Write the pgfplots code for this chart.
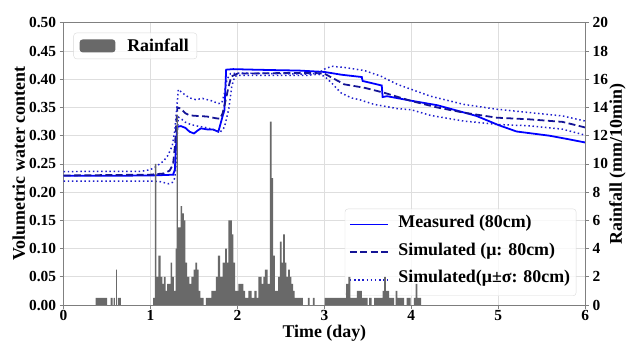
\documentclass[border=0pt]{standalone}
\usepackage{pgfplots}
\pgfplotsset{compat=1.18}
\usepackage{fontspec}
\setmainfont{Liberation Serif}
\newcommand{\tickfont}{\fontsize{15.5bp}{18bp}\selectfont\bfseries}
\newcommand{\lblfont}{\fontsize{18bp}{21bp}\selectfont\bfseries}
\definecolor{rain}{RGB}{105,105,105}
\definecolor{meas}{RGB}{0,0,255}
\definecolor{simu}{RGB}{20,20,150}
\definecolor{simd}{RGB}{30,30,205}
\begin{document}
\begin{tikzpicture}
\begin{axis}[
  at={(0,0)}, anchor=south west,
  scale only axis, width=525bp, height=284bp,
  xmin=0, xmax=6, ymin=0, ymax=0.5,
  xtick={0,1,2,3,4,5,6},
  ytick={0,0.05,0.1,0.15,0.2,0.25,0.3,0.35,0.4,0.45,0.5},
  xtick pos=bottom, ytick pos=left,
  tick align=outside, major tick length=4bp,
  axis line style={black!50, line width=0.8pt},
  tick style={black!50, line width=0.8pt},
  grid=major, major grid style={black!13, line width=0.8pt},
  /pgf/number format/assume math mode=true,
  ticklabel style={font=\tickfont},
  xticklabel style={yshift=2bp},
  yticklabel style={/pgf/number format/fixed, /pgf/number format/fixed zerofill, /pgf/number format/precision=2},
  xlabel={Time (day)}, ylabel={Volumetric water content},
  label style={font=\lblfont},
  xlabel style={at={(axis description cs:0.5,-0.1)}, anchor=center},
  ylabel style={at={(axis description cs:-0.0857,0.5)}, anchor=center},
  legend style={at={(0.983,0.032)}, anchor=south east, font=\lblfont,
    draw=black!15, rounded corners=3pt, fill=white, fill opacity=0.8, text opacity=1,
    row sep=4.5bp, column sep=8bp, inner xsep=4bp, inner ysep=4bp,
    nodes={text depth=7bp}},
  legend cell align=left,
  legend image code/.code={\draw[#1, opacity=1] (0bp,0bp) -- (38bp,0bp);},
]
\addplot[meas, line width=1.8pt] coordinates {
(0,0.229) (0.5,0.229) (1.0,0.2295) (1.2,0.2305) (1.26,0.231) (1.28,0.24) (1.29,0.27) (1.30,0.30) (1.31,0.316)
(1.35,0.317) (1.40,0.314) (1.45,0.307) (1.50,0.304) (1.54,0.309) (1.58,0.313) (1.62,0.312) (1.66,0.311)
(1.72,0.311) (1.78,0.307) (1.80,0.318) (1.83,0.335) (1.85,0.345) (1.86,0.38) (1.87,0.417) (1.95,0.418)
(2.2,0.417) (2.5,0.416) (2.7,0.4155) (3.0,0.413) (3.2,0.408) (3.43,0.404) (3.44,0.397) (3.66,0.389)
(3.67,0.3685) (3.72,0.370) (4.0,0.362) (4.3,0.354) (4.68,0.338) (4.75,0.335) (5.0,0.319) (5.21,0.3075)
(5.59,0.300) (5.8,0.294) (6.0,0.288)};
\addlegendentry{Measured (80cm)}
\addplot[simu, line width=1.8pt, dash pattern=on 7bp off 3.5bp] coordinates {
(0,0.2295) (1.0,0.231) (1.15,0.233) (1.22,0.238) (1.26,0.25) (1.28,0.28) (1.30,0.33) (1.31,0.35)
(1.35,0.348) (1.40,0.340) (1.45,0.336) (1.54,0.335) (1.65,0.334) (1.75,0.331) (1.80,0.330) (1.83,0.34)
(1.86,0.36) (1.90,0.388) (1.93,0.405) (2.0,0.41) (2.5,0.411) (2.9,0.411) (3.0,0.41) (3.23,0.391)
(3.46,0.385) (3.69,0.376) (4.0,0.3615) (4.30,0.350) (4.60,0.341) (4.98,0.332) (5.36,0.329) (5.74,0.3245)
(6.0,0.3146)};
\addlegendentry{Simulated (μ: 80cm)}
\addplot[simd, line width=1.5pt, dash pattern=on 1.5bp off 2.7bp] coordinates {
(0,0.2365) (0.9,0.237) (1.0,0.240) (1.06,0.245) (1.15,0.255) (1.20,0.265) (1.25,0.282) (1.28,0.31)
(1.30,0.345) (1.32,0.382) (1.35,0.378) (1.40,0.372) (1.45,0.367) (1.52,0.364) (1.60,0.366) (1.70,0.362)
(1.78,0.357) (1.82,0.358) (1.85,0.375) (1.88,0.40) (1.92,0.41) (2.0,0.411) (2.5,0.41) (2.8,0.409)
(2.93,0.411) (3.0,0.418) (3.08,0.423) (3.23,0.421) (3.46,0.4155) (3.65,0.4055) (3.84,0.391) (4.22,0.370)
(4.60,0.3556) (4.98,0.347) (5.36,0.341) (5.74,0.335) (6.0,0.326)};
\addlegendentry{Simulated(μ±σ: 80cm)}
\addplot[simd, line width=1.5pt, dash pattern=on 1.5bp off 2.7bp, forget plot] coordinates {
(0,0.2195) (1.0,0.2195) (1.10,0.219) (1.18,0.216) (1.21,0.2148) (1.25,0.217) (1.28,0.225) (1.30,0.26)
(1.31,0.31) (1.32,0.333) (1.36,0.329) (1.40,0.324) (1.46,0.320) (1.54,0.317) (1.62,0.315) (1.72,0.311)
(1.80,0.306) (1.85,0.315) (1.90,0.347) (1.935,0.388) (1.97,0.405) (2.0,0.407) (2.5,0.407) (2.8,0.407)
(2.93,0.409) (3.0,0.4055) (3.08,0.394) (3.19,0.376) (3.31,0.367) (3.40,0.364) (3.57,0.3556) (3.84,0.348)
(4.0,0.346) (4.22,0.336) (4.60,0.326) (4.80,0.323) (4.98,0.320) (5.36,0.3175) (5.74,0.3116) (6.0,0.301)};
\end{axis}
\begin{axis}[
  at={(0,0)}, anchor=south west,
  scale only axis, width=525bp, height=284bp,
  xmin=0, xmax=6, ymin=0, ymax=20,
  axis x line=none, axis y line*=right,
  ytick={0,2,4,6,8,10,12,14,16,18,20},
  tick align=outside, major tick length=4bp,
  axis line style={black!50, line width=0.8pt},
  tick style={black!50, line width=0.8pt},
  /pgf/number format/assume math mode=true,
  ticklabel style={font=\tickfont},
  ylabel={Rainfall (mm/10min)},
  label style={font=\lblfont},
  ylabel style={at={(axis description cs:1.062,0.5)}, anchor=center},
  legend style={at={(0.019,0.965)}, anchor=north west, font=\lblfont,
    draw=black!15, rounded corners=3pt, fill=white, fill opacity=0.8, text opacity=1,
    column sep=10bp, inner xsep=6bp, inner ysep=4bp},
  legend image code/.code={\fill[#1, opacity=1] (0bp,-6.5bp) rectangle (36bp,6.5bp);},
]
\addplot[const plot, fill=rain, draw=none] coordinates {
(0,0) (0.37,0.5) (0.50,0) (0.54,0.5) (0.565,0) (0.575,0.5) (0.59,0) (0.605,2.5) (0.613,0) (0.625,0.5) (0.66,0)
(1.029,0.5) (1.051,10.0) (1.066,2.0) (1.089,3.5) (1.116,2.0) (1.135,1.5) (1.154,2.0) (1.173,1.0) (1.192,1.5)
(1.23,3.0) (1.25,2.0) (1.268,1.0) (1.288,4.0) (1.299,13.5) (1.314,5.5) (1.345,7.0) (1.363,6.5) (1.383,6.0)
(1.402,3.0) (1.421,2.0) (1.448,1.5) (1.471,2.0) (1.497,2.5) (1.516,3.0) (1.535,2.5) (1.554,1.0) (1.573,0.5)
(1.611,0) (1.638,0.5) (1.699,1.0) (1.753,2.0) (1.776,3.5) (1.802,2.0) (1.829,3.0) (1.859,4.0) (1.878,3.0)
(1.897,6.0) (1.935,5.0) (1.954,3.0) (1.973,1.0) (2.011,1.5) (2.069,1.0) (2.088,0.5) (2.126,1.0) (2.164,0.5)
(2.194,1.0) (2.221,0.5) (2.24,2.0) (2.278,1.5) (2.297,2.0) (2.316,2.5) (2.347,1.5) (2.373,13.0) (2.392,9.0)
(2.411,3.5) (2.43,1.0) (2.469,2.0) (2.488,4.5) (2.507,3.0) (2.526,5.0) (2.545,3.0) (2.564,2.0) (2.583,2.5)
(2.602,2.0) (2.621,1.5) (2.64,1.0) (2.659,0.5) (2.754,0) (2.811,0.5) (2.83,0) (2.869,0.5) (2.888,0)
(3.002,0.5) (3.25,1.5) (3.277,2.0) (3.30,0.5) (3.375,1.0) (3.43,0.5) (3.497,0) (3.516,0.5) (3.543,0)
(3.573,0.5) (3.669,1.0) (3.688,2.0) (3.707,1.0) (3.745,0.5) (3.802,0) (3.821,1.0) (3.84,0.5) (3.916,0)
(3.947,0.5) (3.992,0) (4.03,0.5) (4.05,1.5) (4.069,0.5) (4.114,0) (6,0)} \closedcycle;
\addlegendentry{Rainfall}
\end{axis}
\path[use as bounding box] (-64bp,-35bp) rectangle (565bp,307bp);
\end{tikzpicture}
\end{document}
